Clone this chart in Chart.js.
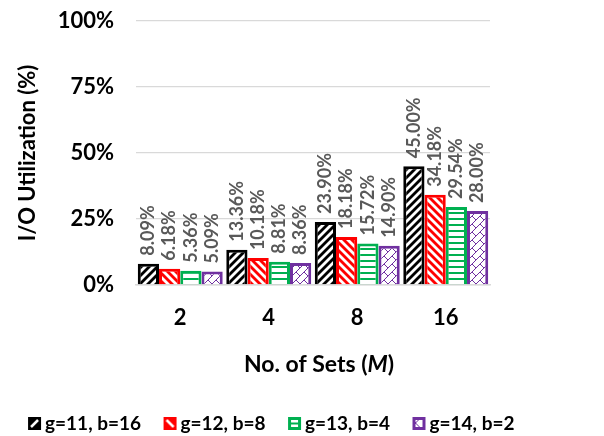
<!DOCTYPE html>
<html>
<head>
<meta charset="utf-8">
<script src="https://cdn.jsdelivr.net/npm/chart.js@4.4.1/dist/chart.umd.min.js"></script>
<style>
  html, body { margin: 0; padding: 0; background: #fff; }
  #wrap { width: 604px; height: 436px; }
</style>
</head>
<body>
<div id="wrap"><canvas id="chart"></canvas></div>
<script>
// data
const categories = ['2', '4', '8', '16'];
const seriesNames = ['g=11, b=16', 'g=12, b=8', 'g=13, b=4', 'g=14, b=2'];
const g11 = [8.09, 13.36, 23.90, 45.00];
const g12 = [6.18, 10.18, 18.18, 34.18];
const g13 = [5.36, 8.81, 15.72, 29.54];
const g14 = [5.09, 8.36, 14.90, 28.00];
const yTicks = [0, 25, 50, 75, 100];

const FONT = 'Lato, "Open Sans", sans-serif';
const colors = ['#000000', '#ff0000', '#00b050', '#7030a0'];
const kinds = ['fwd', 'back', 'horiz', 'diamond'];

// small tile with the hatch, used as fill pattern
function hatchTile(color, kind) {
  const c = document.createElement('canvas');
  c.width = 8; c.height = 8;
  const g = c.getContext('2d');
  g.fillStyle = '#fff';
  g.fillRect(0, 0, 8, 8);
  g.strokeStyle = color;
  if (kind === 'fwd' || kind === 'back') {
    g.lineWidth = 2.8;
    const lines = [[-4, 4, 4, -4], [0, 8, 8, 0], [4, 12, 12, 4]];
    lines.forEach(l => {
      g.beginPath();
      if (kind === 'fwd') { g.moveTo(l[0], l[1]); g.lineTo(l[2], l[3]); }
      else { g.moveTo(8 - l[0], l[1]); g.lineTo(8 - l[2], l[3]); }
      g.stroke();
    });
  } else if (kind === 'horiz') {
    c.height = 6;
    g.fillStyle = '#fff';
    g.fillRect(0, 0, 8, 6);
    g.fillStyle = color;
    g.fillRect(0, 2, 8, 2);
  } else {
    g.lineWidth = 1;
    g.beginPath();
    g.moveTo(0, 8); g.lineTo(8, 0);
    g.moveTo(0, 0); g.lineTo(4, 4);
    g.stroke();
  }
  return c;
}

// legend square sits on the right of a wider transparent canvas
function legendIcon(color, kind) {
  const c = document.createElement('canvas');
  c.width = 21; c.height = 15;
  const g = c.getContext('2d');
  const x0 = 7, y0 = 1, s = 13;
  g.fillStyle = color;
  g.fillRect(x0, y0, s, s);
  g.fillStyle = '#fff';
  g.strokeStyle = '#fff';
  g.lineWidth = 2.5;
  if (kind === 'fwd') {
    g.beginPath(); g.moveTo(x0 + 3, y0 + 10); g.lineTo(x0 + 10, y0 + 3); g.stroke();
  } else if (kind === 'back') {
    g.beginPath(); g.moveTo(x0 + 3, y0 + 3); g.lineTo(x0 + 10, y0 + 10); g.stroke();
  } else if (kind === 'horiz') {
    g.fillRect(x0 + 3, y0 + 3, s - 6, 2.5);
    g.fillRect(x0 + 3, y0 + 7.5, s - 6, 2.5);
  } else {
    g.fillRect(x0 + 3, y0 + 3, s - 6, s - 6);
    g.strokeStyle = color;
    g.lineWidth = 1;
    g.beginPath();
    g.moveTo(x0 + 3, y0 + 6); g.lineTo(x0 + 6, y0 + 3);
    g.moveTo(x0 + 3, y0 + 6); g.lineTo(x0 + 7, y0 + 10);
    g.stroke();
  }
  return c;
}

const ctx = document.getElementById('chart').getContext('2d');
const seriesData = [g11, g12, g13, g14];

const datasets = seriesData.map((d, i) => ({
  label: seriesNames[i],
  data: d,
  backgroundColor: ctx.createPattern(hatchTile(colors[i], kinds[i]), 'repeat'),
  borderColor: colors[i],
  borderWidth: 3,
  pointStyle: legendIcon(colors[i], kinds[i]),
  barPercentage: 1,
  categoryPercentage: 0.96
}));

// rotated value labels above each bar
const valueLabels = {
  id: 'valueLabels',
  afterDatasetsDraw(chart) {
    const c = chart.ctx;
    c.save();
    c.font = 'bold 18px ' + FONT;
    c.fillStyle = '#595959';
    c.textAlign = 'left';
    c.textBaseline = 'middle';
    chart.data.datasets.forEach((ds, i) => {
      chart.getDatasetMeta(i).data.forEach((bar, j) => {
        c.save();
        c.translate(bar.x, bar.y - 8);
        c.rotate(-Math.PI / 2);
        c.fillText(ds.data[j].toFixed(2) + '%', 0, 0);
        c.restore();
      });
    });
    c.restore();
  }
};

// x title with italic M
const xTitle = {
  id: 'xTitle',
  afterDraw(chart) {
    const c = chart.ctx;
    const a = chart.chartArea;
    const parts = [['No. of Sets (', 'bold'], ['M', 'italic bold'], [')', 'bold']];
    c.save();
    let total = 0;
    parts.forEach(p => { c.font = p[1] + ' 23px ' + FONT; total += c.measureText(p[0]).width; });
    let x = (a.left + a.right) / 2 - total / 2 + 6;
    c.fillStyle = '#000';
    c.textBaseline = 'middle';
    c.textAlign = 'left';
    parts.forEach(p => {
      c.font = p[1] + ' 23px ' + FONT;
      c.fillText(p[0], x, 365);
      x += c.measureText(p[0]).width;
    });
    c.restore();
  }
};

new Chart(ctx, {
  type: 'bar',
  data: { labels: categories, datasets: datasets },
  plugins: [valueLabels, xTitle],
  options: {
    responsive: true,
    maintainAspectRatio: false,
    animation: false,
    layout: { padding: { top: 0, left: 0, right: 62, bottom: -7 } },
    plugins: {
      tooltip: { enabled: false },
      legend: {
        position: 'bottom',
        labels: {
          usePointStyle: true,
          boxWidth: 8,
          color: '#000',
          font: { family: FONT, size: 19, weight: 'bold' },
          padding: 22
        }
      }
    },
    scales: {
      x: {
        grid: { display: false, drawTicks: false },
        border: { color: '#d9d9d9', width: 1.5 },
        ticks: { color: '#000', font: { family: FONT, size: 22, weight: 'bold' }, padding: 20 },
        afterFit(scale) { scale.height = 107; }
      },
      y: {
        min: 0,
        max: 100,
        afterBuildTicks(scale) { scale.ticks = yTicks.map(v => ({ value: v })); },
        grid: { color: '#d9d9d9', lineWidth: 1.3, drawTicks: false },
        border: { display: false },
        ticks: {
          color: '#000',
          font: { family: FONT, size: 22, weight: 'bold' },
          padding: 22,
          callback: v => v + '%'
        },
        title: {
          display: true,
          text: 'I/O Utilization (%)',
          color: '#000',
          font: { family: FONT, size: 22, weight: 'bold' },
          padding: { top: 15, bottom: 0 }
        },
        afterFit(scale) {
          scale.width = 136;
          scale.paddingTop = 21;
          scale.paddingBottom = 0;
        }
      },
      y2: {
        position: 'right',
        display: true,
        grid: { display: false },
        border: { display: false },
        ticks: { display: false },
        afterFit(scale) { scale.width = 52; }
      }
    }
  }
});
</script>
</body>
</html>
